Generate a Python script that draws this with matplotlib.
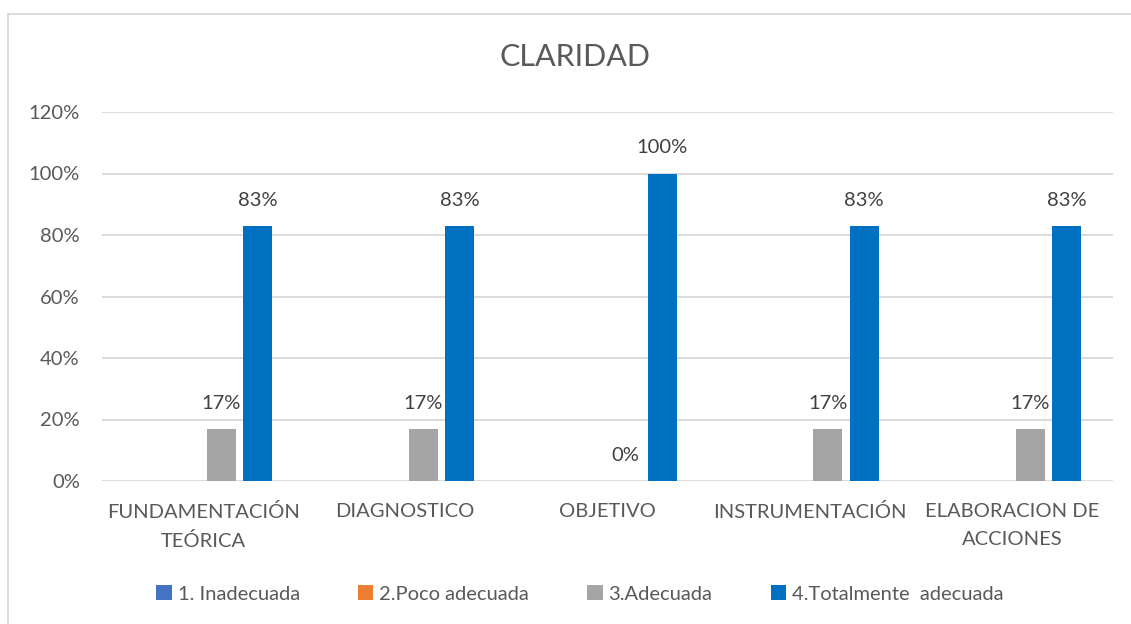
import matplotlib
matplotlib.use("Agg")
import matplotlib.pyplot as plt
import numpy as np
from matplotlib.lines import Line2D

categories = ["FUNDAMENTACIÓN\nTEÓRICA", "DIAGNOSTICO", "OBJETIVO",
              "INSTRUMENTACIÓN", "ELABORACION DE\nACCIONES"]
series_names = ["1. Inadecuada", "2.Poco adecuada", "3.Adecuada", "4.Totalmente  adecuada"]
s1 = [0, 0, 0, 0, 0]
s2 = [0, 0, 0, 0, 0]
s3 = [0.17, 0.17, 0.0, 0.17, 0.17]
s4 = [0.83, 0.83, 1.00, 0.83, 0.83]
yticks = [0, 0.2, 0.4, 0.6, 0.8, 1.0, 1.2]
ytick_labels = ["0%", "20%", "40%", "60%", "80%", "100%", "120%"]

colors = ["#4472C4", "#ED7D31", "#A5A5A5", "#0070C0"]
text_color = "#595959"
FONT = "Lato"
plt.rcParams["font.family"] = [FONT, "DejaVu Sans"]
FS = 14.5

fig = plt.figure(figsize=(11.31, 6.24), dpi=100)
ax = fig.add_axes([102/1131, 1-481/624, (1113-102)/1131, (481-112)/624])

x = np.arange(len(categories))
offsets = [-0.27, -0.09, 0.09, 0.27]
width = 0.143
all_series = [s1, s2, s3, s4]
bars = []
for i, (vals, off) in enumerate(zip(all_series, offsets)):
    b = ax.bar(x + off, vals, width, color=colors[i], label=series_names[i], zorder=3)
    bars.append(b)

for i in (2, 3):
    for rect, v in zip(bars[i], all_series[i]):
        ax.annotate(f"{v*100:.0f}%", (rect.get_x() + rect.get_width()/2, rect.get_height()),
                    xytext=(0, 18.5), textcoords="offset points", ha="center", va="center",
                    fontsize=FS, color="#404040")

ax.set_xlim(-0.5, len(categories) - 0.5)
ax.set_ylim(0, 1.2)
ax.set_yticks(yticks)
ax.set_yticklabels(ytick_labels, fontsize=FS, color=text_color)
ax.set_xticks(x)
ax.set_xticklabels(categories, fontsize=FS, color=text_color, linespacing=1.75)
ax.tick_params(axis="both", length=0)
ax.tick_params(axis="y", pad=16)
ax.tick_params(axis="x", pad=16)
ax.grid(axis="y", color="#D9D9D9", linewidth=1.3, zorder=0)
for s in ax.spines.values():
    s.set_visible(False)

fig.text(575/1131, 1-57/624, "CLARIDAD", ha="center", va="center", fontsize=22, color=text_color)

leg = fig.legend(handles=[b for b in bars], labels=series_names, loc="center",
                 bbox_to_anchor=(580/1131, 1-594/624), ncol=4, frameon=False,
                 fontsize=FS, handlelength=0.75, handleheight=0.75, handletextpad=0.3,
                 columnspacing=2.9)
for t in leg.get_texts():
    t.set_color(text_color)

# chart area border (top and left visible)
fig.add_artist(Line2D([8/1131, 1], [1-14/624, 1-14/624], transform=fig.transFigure,
                      color="#D9D9D9", linewidth=1.3))
fig.add_artist(Line2D([8/1131, 8/1131], [0, 1-14/624], transform=fig.transFigure,
                      color="#D9D9D9", linewidth=1.3))

fig.savefig("out.png", dpi=100)
